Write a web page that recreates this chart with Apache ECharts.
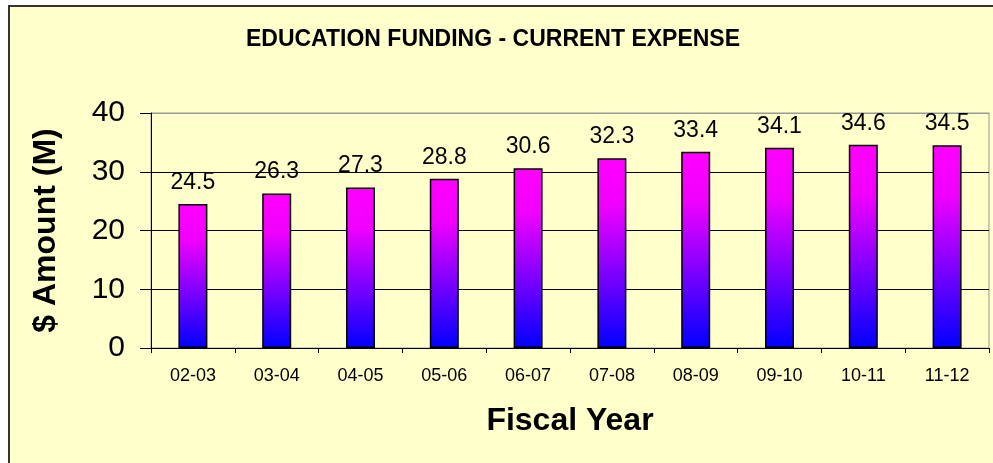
<!DOCTYPE html>
<html>
<head>
<meta charset="utf-8">
<script src="https://cdn.jsdelivr.net/npm/echarts@6/dist/echarts.min.js"></script>
<style>
  html, body { margin: 0; padding: 0; background: #FFFFFF; }
  .frame {
    position: absolute; left: 8px; top: 5px; width: 990px; height: 470px;
    background: #FFFFCC; border-left: 2px solid #333333; border-top: 2px solid #333333;
  }
  #chart { position: absolute; left: 0; top: 0; width: 993px; height: 463px; }
</style>
</head>
<body>
<div class="frame"></div>
<div id="chart"></div>
<script>
var years = ['02-03', '03-04', '04-05', '05-06', '06-07', '07-08', '08-09', '09-10', '10-11', '11-12']
var amounts = [24.5, 26.3, 27.3, 28.8, 30.6, 32.3, 33.4, 34.1, 34.6, 34.5]

var chart = echarts.init(document.getElementById('chart'))
var font = 'Liberation Sans, Arial, sans-serif'

var option = {
  backgroundColor: 'transparent',
  animation: false,
  title: {
    text: 'EDUCATION FUNDING - CURRENT EXPENSE',
    left: 488,
    textAlign: 'center',
    top: 23,
    textStyle: { fontFamily: font, fontSize: 23, fontWeight: 'bold', color: '#000' }
  },
  grid: { left: 151, right: 4, top: 113, bottom: 115, show: true, borderColor: '#999999', borderWidth: 1 },
  xAxis: {
    type: 'category',
    data: years,
    name: 'Fiscal Year',
    nameLocation: 'middle',
    nameGap: 57,
    nameTextStyle: { fontFamily: font, fontSize: 32, fontWeight: 'bold', color: '#000' },
    axisLine: { lineStyle: { color: '#000', width: 1 } },
    axisTick: { show: true, length: 5, lineStyle: { color: '#000' } },
    axisLabel: { fontFamily: font, fontSize: 18, color: '#000', margin: 19 }
  },
  yAxis: {
    type: 'value',
    min: 0,
    max: 40,
    interval: 10,
    name: '$ Amount (M)',
    nameLocation: 'middle',
    nameGap: 89,
    nameTextStyle: { fontFamily: font, fontSize: 32, fontWeight: 'bold', color: '#000' },
    axisLine: { show: true, lineStyle: { color: '#000', width: 1 } },
    axisTick: { show: true, length: 11, lineStyle: { color: '#000' } },
    axisLabel: { fontFamily: font, fontSize: 30, color: '#000', margin: 26 },
    splitLine: { show: true, lineStyle: { color: ['#000', '#000', '#000', '#000', '#999'], width: 1 } }
  },
  series: [
    {
      type: 'bar',
      data: amounts,
      barWidth: 29,
      itemStyle: {
        borderColor: '#000',
        borderWidth: 1.5,
        color: new echarts.graphic.LinearGradient(0, 0, 0, 1, [
          { offset: 0, color: '#FF00FF' },
          { offset: 0.25, color: '#F000FF' },
          { offset: 1, color: '#0000FF' }
        ])
      },
      label: {
        show: true,
        position: 'top',
        distance: 10,
        fontFamily: font,
        fontSize: 23,
        color: '#000'
      }
    }
  ]
}

chart.setOption(option)
</script>
</body>
</html>
